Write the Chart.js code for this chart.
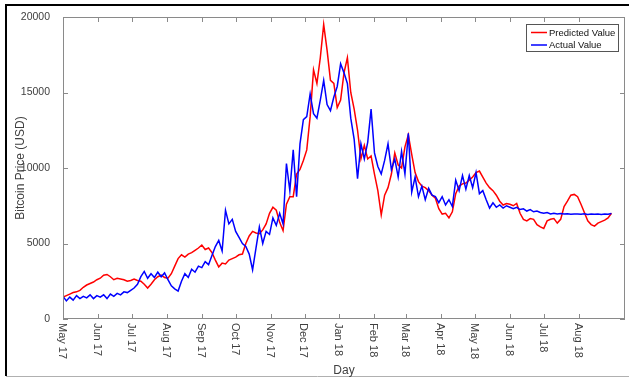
<!DOCTYPE html>
<html>
<head>
<meta charset="utf-8">
<script src="https://cdn.jsdelivr.net/npm/chart.js@4.4.1/dist/chart.umd.min.js"></script>
<style>
  html, body { margin: 0; padding: 0; background: #fff; }
  #wrap { width: 629px; height: 377px; position: relative; }
</style>
</head>
<body>
<div id="wrap"><canvas id="c" width="629" height="377"></canvas></div>
<script>
// Daily series sampled every 3 days, starting 1 May 2017 (USD)
const START_DATE = '2017-05-01';
const SAMPLE_STEP_DAYS = 3;

const actualValue = [
  1500, 1200, 1450, 1250, 1550, 1350, 1500, 1400, 1600, 1350,
  1550, 1450, 1600, 1350, 1650, 1500, 1700, 1600, 1800, 1750,
  1900, 2050, 2300, 2800, 3150, 2700, 3000, 2750, 3100, 2800,
  3050, 2600, 2200, 2000, 1850, 2500, 3000, 2750, 3300, 3100,
  3500, 3400, 3800, 3600, 4200, 4800, 5200, 4500, 7200, 6300,
  6600, 5800, 5400, 5000, 4800, 4300, 3250, 4700, 6100, 5000,
  5800, 5600, 6700, 6200, 7000, 6300, 10300, 8500, 11200, 8100,
  11600, 13200, 13400, 14900, 13600, 13300, 14500, 15800, 14200, 13800,
  14700, 15400, 16900, 16300, 15600, 13300, 11900, 9300, 11600, 10600,
  11700, 13900, 11000, 10100, 9600, 10500, 11600, 9900, 10600, 9400,
  11100, 9600, 12300, 8400, 9400, 8100, 8800, 7900, 8650, 8200,
  8100, 7700, 8100, 7550, 7900, 7450, 9200, 8500, 9500, 8600,
  9500, 8700, 9700, 8300, 8500, 7900, 7350, 7700, 7400, 7550,
  7350, 7500, 7400, 7300, 7400, 7250, 7300, 7150, 7250, 7100,
  7150, 7050, 7000, 7050, 6950, 7000, 6950, 6980, 6950, 6970,
  6930, 6960, 6950, 6940, 6970, 6920, 6950, 6930, 6960, 6920,
  6950, 6930, 6980
];

const predictedValue = [
  1450, 1550, 1650, 1750, 1800, 1900, 2100, 2250, 2350, 2450,
  2600, 2700, 2900, 2950, 2800, 2600, 2700, 2650, 2600, 2500,
  2550, 2650, 2550, 2500, 2300, 2050, 2300, 2600, 2800, 2900,
  2750, 2700, 3000, 3500, 4000, 4250, 4100, 4300, 4400, 4550,
  4700, 4900, 4600, 4700, 4400, 3900, 3450, 3700, 3650, 3900,
  4000, 4100, 4250, 4300, 5000, 5500, 5800, 5700, 5650, 5900,
  6300, 7000, 7400, 7200, 6400, 5850, 7600, 8100, 8100, 9600,
  9900, 10500, 11200, 13400, 16500, 15600, 17300, 19500, 17800, 15800,
  15600, 14000, 14500, 16300, 17300, 15000, 13900, 12500, 10600, 11500,
  10600, 10800, 9600, 8500, 6900, 8200, 8700, 9600, 11000, 10200,
  10000, 11400, 12200, 10900, 9700, 9100, 8800, 8700, 8500, 8200,
  8000, 7300, 6950, 7000, 6700, 7100, 8300, 8800, 8950, 9000,
  9200, 9400, 9700, 9800, 9400, 9000, 8700, 8500, 8200, 7800,
  7550, 7650, 7600, 7500, 7650, 7000, 6600, 6500, 6650, 6600,
  6250, 6100, 6000, 6500, 6600, 6650, 6350, 6600, 7450, 7800,
  8200, 8250, 8100, 7600, 7050, 6500, 6250, 6150, 6350, 6450,
  6550, 6700, 7000
];

// Month ticks: day offset from START_DATE and label
const monthTickDays = [0, 31, 61, 92, 123, 153, 184, 214, 245, 276, 304, 335, 365, 396, 426, 457];
const monthTickLabels = ['May 17', 'Jun 17', 'Jul 17', 'Aug 17', 'Sep 17', 'Oct 17', 'Nov 17', 'Dec 17',
                         'Jan 18', 'Feb 18', 'Mar 18', 'Apr 18', 'May 18', 'Jun 18', 'Jul 18', 'Aug 18'];
const priceTicks = [0, 5000, 10000, 15000, 20000];
const seriesNames = ['Predicted Value', 'Actual Value'];

const toPoints = arr => arr.map((v, i) => ({ x: i * SAMPLE_STEP_DAYS, y: v }));

const AXIS_COLOR = '#8a8a8a';
const TEXT_COLOR = '#404040';
const FONT = '"Liberation Sans", Arial, sans-serif';

// Frame, MATLAB-style box with inward ticks, rotated month labels, titles and legend
const decorations = {
  id: 'decorations',
  afterDraw(chart) {
    const { ctx, chartArea: a, scales } = chart;
    const xs = scales.x, ys = scales.y;
    ctx.save();

    // outer frame
    ctx.strokeStyle = '#000';
    ctx.lineWidth = 2;
    ctx.beginPath();
    ctx.moveTo(6, 376); ctx.lineTo(6, 5); ctx.lineTo(629, 5);
    ctx.stroke();
    ctx.strokeStyle = '#b0b0b0';
    ctx.lineWidth = 1;
    ctx.beginPath();
    ctx.moveTo(6, 376.5); ctx.lineTo(629, 376.5);
    ctx.stroke();

    // plot box
    ctx.strokeStyle = AXIS_COLOR;
    ctx.lineWidth = 1;
    ctx.strokeRect(a.left + 0.5, a.top + 0.5, a.right - a.left - 1, a.bottom - a.top - 1);

    // inward ticks
    ctx.beginPath();
    xs.ticks.forEach(t => {
      const px = Math.round(xs.getPixelForValue(t.value)) + 0.5;
      ctx.moveTo(px, a.bottom); ctx.lineTo(px, a.bottom - 5);
      ctx.moveTo(px, a.top); ctx.lineTo(px, a.top + 5);
    });
    ys.ticks.forEach(t => {
      const py = Math.round(ys.getPixelForValue(t.value)) + 0.5;
      ctx.moveTo(a.left, py); ctx.lineTo(a.left + 5, py);
      ctx.moveTo(a.right, py); ctx.lineTo(a.right - 5, py);
    });
    ctx.stroke();

    // month labels, rotated clockwise
    ctx.fillStyle = TEXT_COLOR;
    ctx.font = '11px ' + FONT;
    ctx.textAlign = 'left';
    ctx.textBaseline = 'middle';
    xs.ticks.forEach(t => {
      const idx = monthTickDays.indexOf(t.value);
      if (idx < 0) return;
      const px = xs.getPixelForValue(t.value);
      ctx.save();
      ctx.translate(px - 1, a.bottom + 4);
      ctx.rotate(Math.PI / 2);
      ctx.fillText(monthTickLabels[idx], 0, 0);
      ctx.restore();
    });

    // axis titles
    ctx.font = '12px ' + FONT;
    ctx.textAlign = 'center';
    ctx.textBaseline = 'alphabetic';
    ctx.fillText('Day', (a.left + a.right) / 2, 374);
    ctx.save();
    ctx.translate(24, (a.top + a.bottom) / 2);
    ctx.rotate(-Math.PI / 2);
    ctx.fillText('Bitcoin Price (USD)', 0, 0);
    ctx.restore();

    // legend
    const lx = 526, ly = 24, lw = 92, lh = 27;
    ctx.fillStyle = '#fff';
    ctx.fillRect(lx, ly, lw, lh);
    ctx.strokeStyle = '#555';
    ctx.lineWidth = 1;
    ctx.strokeRect(lx + 0.5, ly + 0.5, lw, lh);
    ctx.font = '9.5px ' + FONT;
    ctx.textAlign = 'left';
    ctx.textBaseline = 'middle';
    const legendOrder = [0, 1];
    legendOrder.forEach((di, row) => {
      const ds = chart.data.datasets[di];
      const y = ly + 8.5 + row * 12.5;
      ctx.strokeStyle = ds.borderColor;
      ctx.lineWidth = 1.5;
      ctx.beginPath();
      ctx.moveTo(lx + 5, y); ctx.lineTo(lx + 21, y);
      ctx.stroke();
      ctx.fillStyle = '#111';
      ctx.fillText(ds.label, lx + 23, y + 0.5);
    });

    ctx.restore();
  }
};

new Chart(document.getElementById('c'), {
  type: 'line',
  data: {
    datasets: [
      {
        label: seriesNames[0],
        data: toPoints(predictedValue),
        borderColor: '#ff0000',
        borderWidth: 1.5,
        pointRadius: 0,
        tension: 0,
        fill: false,
        order: 1
      },
      {
        label: seriesNames[1],
        data: toPoints(actualValue),
        borderColor: '#0000ff',
        borderWidth: 1.5,
        pointRadius: 0,
        tension: 0,
        fill: false,
        order: 0
      }
    ]
  },
  options: {
    responsive: false,
    animation: false,
    devicePixelRatio: 1,
    layout: { padding: { left: 0, top: 17, right: 4, bottom: 0 } },
    plugins: { legend: { display: false }, tooltip: { enabled: false } },
    scales: {
      x: {
        type: 'linear',
        min: 0,
        max: 498,
        grid: { display: false },
        border: { display: false },
        ticks: { display: false },
        afterBuildTicks(scale) { scale.ticks = monthTickDays.map(v => ({ value: v })); },
        afterFit(scale) { scale.height = 58; }
      },
      y: {
        min: 0,
        max: 20000,
        grid: { display: false },
        border: { display: false },
        ticks: {
          color: TEXT_COLOR,
          font: { family: FONT, size: 10.5 },
          padding: 5,
          callback: v => String(v)
        },
        afterBuildTicks(scale) { scale.ticks = priceTicks.map(v => ({ value: v })); },
        afterFit(scale) { scale.width = 63; }
      }
    }
  },
  plugins: [decorations]
});
</script>
</body>
</html>
